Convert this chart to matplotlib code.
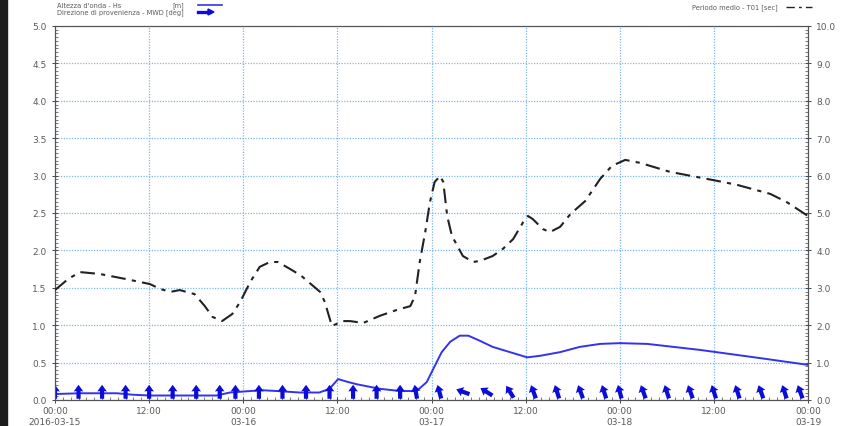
import numpy as np
import matplotlib.pyplot as plt
from matplotlib.patches import Rectangle
from matplotlib.ticker import MultipleLocator

# hours since 2016-03-15 00:00
hs_hours = [0, 3.2, 5.7, 7.9, 10, 12.1, 20.6, 22.3, 24.9, 26.5, 28.3, 31.2, 33.7,
            35.0, 36.1, 37.2, 38.5, 41.4, 44.0, 46.1, 47.4, 48.2, 49.3, 50.4, 51.6,
            52.7, 54.2, 55.8, 58.0, 60.2, 61.8, 64.4, 66.9, 69.5, 72.0, 75.5, 82.2,
            89.9, 96]
hs_vals = [0.08, 0.09, 0.09, 0.09, 0.07, 0.06, 0.06, 0.10, 0.12, 0.13, 0.12, 0.10, 0.10,
           0.15, 0.28, 0.245, 0.21, 0.15, 0.12, 0.12, 0.24, 0.41, 0.64, 0.78, 0.86,
           0.86, 0.79, 0.71, 0.64, 0.57, 0.59, 0.64, 0.71, 0.75, 0.76, 0.75, 0.67,
           0.56, 0.47]

t01_hours = [0, 1.7, 3.2, 5.7, 8.9, 12.1, 13.4, 14.7, 15.9, 17.8, 19.1, 20.1, 21.3,
             22.6, 23.6, 24.9, 26.1, 27.4, 28.4, 30.0, 31.4, 33.8, 34.4, 35.3, 36.7,
             37.6, 39.3, 41.4, 43.6, 45.3, 45.9, 46.5, 47.2, 47.8, 48.4, 49.1, 49.5,
             50.0, 50.6, 52.0, 53.3, 54.2, 55.8, 57.1, 58.4, 59.7, 60.3, 60.9, 62.2,
             63.1, 64.4, 65.7, 67.6, 69.5, 71.0, 72.7, 74.6, 78.4, 84.4, 87.0, 91.2,
             93.3, 96]
t01_vals = [2.94, 3.24, 3.42, 3.37, 3.24, 3.10, 2.97, 2.89, 2.94, 2.83, 2.51, 2.22, 2.11,
            2.30, 2.62, 3.16, 3.56, 3.69, 3.69, 3.50, 3.32, 2.89, 2.62, 1.98, 2.11,
            2.11, 2.06, 2.25, 2.41, 2.51, 2.78, 3.69, 4.49, 5.29, 5.83, 5.99, 5.83,
            4.92, 4.39, 3.85, 3.69, 3.72, 3.85, 4.04, 4.30, 4.76, 4.92, 4.84, 4.57,
            4.49, 4.63, 4.97, 5.32, 5.91, 6.26, 6.42, 6.34, 6.10, 5.86, 5.75, 5.51,
            5.29, 4.92]

mwd_hours = [0, 3, 6, 9, 12, 15, 18, 21, 23, 26, 29, 32, 35, 38, 41, 44, 46,
             49, 52, 55, 58, 61, 64, 67, 70, 72, 75, 78, 81, 84, 87, 90, 93, 95]
mwd_deg = [180, 180, 180, 180, 180, 180, 180, 180, 180, 180, 180, 180, 180, 180, 180, 180, 170,
           165, 110, 122, 148, 160, 162, 160, 162, 165, 160, 162, 160, 162, 162, 160, 162, 160]

x_ticks = [0, 12, 24, 36, 48, 60, 72, 84, 96]
x_labels = ['00:00\n2016-03-15', '12:00', '00:00\n03-16', '12:00', '00:00\n03-17',
            '12:00', '00:00\n03-18', '12:00', '00:00\n03-19']

blue = '#3232f2'
arrow_c = '#0c0cd8'
grid_c = '#7db6f5'
txt_c = '#5a5a5a'

fig = plt.figure(figsize=(8.48, 4.27), dpi=100)
ax = fig.add_axes([55 / 848, 1 - 401 / 427, 753 / 848, 374 / 427])
ax2 = ax.twinx()

ax.set_xlim(0, 96)
ax.set_ylim(0, 5)
ax2.set_ylim(0, 10)

ax.set_xticks(x_ticks)
ax.set_xticklabels(x_labels)
ax.xaxis.set_minor_locator(MultipleLocator(1))
ax.yaxis.set_major_locator(MultipleLocator(0.5))
ax.yaxis.set_minor_locator(MultipleLocator(0.05))
ax.yaxis.set_major_formatter(lambda v, p: f'{v:.1f}')
ax2.yaxis.set_major_locator(MultipleLocator(1))
ax2.yaxis.set_minor_locator(MultipleLocator(0.1))
ax2.yaxis.set_major_formatter(lambda v, p: f'{v:.1f}')

ax.grid(True, which='major', color=grid_c, linestyle=(0, (1, 1.2)), linewidth=0.9)
ax.set_axisbelow(True)

for a in (ax, ax2):
    a.tick_params(which='major', labelsize=6.5, labelcolor=txt_c, color='#444444',
                  length=5, width=0.7, direction='inout')
    a.tick_params(which='minor', length=2.5, width=0.5, color='#444444', direction='in')
    for s in a.spines.values():
        s.set_color('#555555')
        s.set_linewidth(0.8)
ax.tick_params(axis='x', pad=2)

ax.plot(hs_hours, hs_vals, color=blue, linewidth=1.4, zorder=3)
ax2.plot(t01_hours, t01_vals, color='#222222', linewidth=1.5,
         dashes=(7, 3, 2, 3), zorder=3)

# arrows point towards where the waves go (MWD is direction of origin)
ang = np.radians(np.array(mwd_deg) + 180)
ax.quiver(mwd_hours, [0.11] * len(mwd_hours), np.sin(ang), np.cos(ang),
          angles='uv', units='dots', scale_units='dots', scale=1 / 14,
          pivot='middle', width=4.2, headwidth=2.3, headlength=1.6,
          headaxislength=1.5, color=arrow_c, zorder=4)

# legend
fig.text(57 / 848, 1 - 6 / 427, "Altezza d'onda - Hs", fontsize=4.8, color=txt_c, va='center')
fig.text(172 / 848, 1 - 6 / 427, '[m]', fontsize=4.8, color=txt_c, va='center')
fig.add_artist(plt.Line2D([198 / 848, 222 / 848], [1 - 6 / 427] * 2, color=blue, linewidth=1.2))
fig.text(57 / 848, 1 - 13 / 427, 'Direzione di provenienza - MWD [deg]', fontsize=4.8,
         color=txt_c, va='center')
fig.add_artist(plt.Line2D([198 / 848, 209 / 848], [1 - 13 / 427] * 2, color=arrow_c, linewidth=2.4))
fig.add_artist(plt.Polygon([[208 / 848, 1 - 10 / 427], [214 / 848, 1 - 13 / 427],
                            [208 / 848, 1 - 16 / 427]], closed=True, color=arrow_c,
                           transform=fig.transFigure))
fig.text(778 / 848, 1 - 8 / 427, 'Periodo medio - T01 [sec]', fontsize=4.8, color=txt_c,
         va='center', ha='right')
fig.add_artist(plt.Line2D([786 / 848, 812 / 848], [1 - 8 / 427] * 2, color='#222222',
                          linewidth=1.0, dashes=(6, 3, 2, 3)))

# dark strip on the left edge of the screenshot
fig.add_artist(Rectangle((0, 0), 7 / 848, 1, transform=fig.transFigure,
                         color='#1c1c1c', zorder=10))

fig.savefig('out.png', dpi=100)
